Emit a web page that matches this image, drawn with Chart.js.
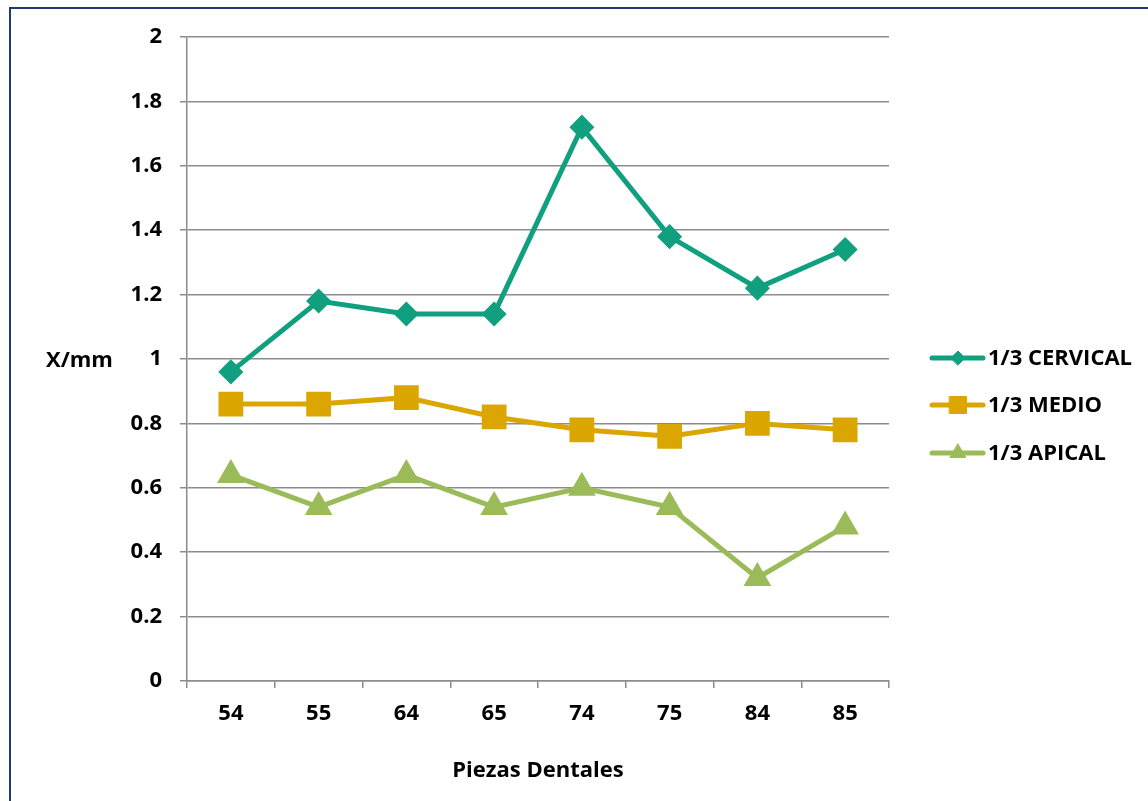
<!DOCTYPE html>
<html>
<head>
<meta charset="utf-8">
<script src="https://cdn.jsdelivr.net/npm/chart.js@4.4.1/dist/chart.umd.min.js"></script>
<style>
  html, body { margin: 0; padding: 0; background: #fff; }
  #wrap { position: relative; width: 1148px; height: 801px; }
</style>
</head>
<body>
<div id="wrap"><canvas id="chart" width="1148" height="801"></canvas></div>
<script>
// Data
const categories = ["54", "55", "64", "65", "74", "75", "84", "85"];
const cervical = [0.96, 1.18, 1.14, 1.14, 1.72, 1.38, 1.22, 1.34];
const medio = [0.86, 0.86, 0.88, 0.82, 0.78, 0.76, 0.80, 0.78];
const apical = [0.64, 0.54, 0.64, 0.54, 0.60, 0.54, 0.32, 0.48];
const seriesNames = ["1/3 CERVICAL", "1/3 MEDIO", "1/3 APICAL"];

const FONT = "'Open Sans', sans-serif";
const FSIZE = 22;
const gridColor = "#8c8c8c";

const colors = ["#10A07F", "#DCA600", "#9BBB59"];
const styles = ["rectRot", "rect", "triangle"];
const radii = [9, 14, 11];
const legendRadii = [7, 12, 9];

// Legend + frame + y-title drawn by hand
const extras = {
  id: "extras",
  beforeDraw(chart) {
    const c = chart.ctx;
    c.save();
    c.strokeStyle = "#1F3A70";
    c.lineWidth = 2;
    c.beginPath();
    c.moveTo(10, 801);
    c.lineTo(10, 8);
    c.lineTo(1148, 8);
    c.stroke();
    c.restore();
  },
  afterDraw(chart) {
    const c = chart.ctx;
    c.save();
    c.fillStyle = "#000";
    c.font = "bold " + FSIZE + "px " + FONT;
    c.textBaseline = "middle";
    c.textAlign = "left";
    c.fillText("X/mm", 46, 361);

    const rows = [358, 405, 453];
    chart.data.datasets.forEach((ds, i) => {
      const y = rows[i];
      c.strokeStyle = ds.borderColor;
      c.fillStyle = ds.borderColor;
      c.lineWidth = 5;
      c.lineCap = "round";
      c.beginPath();
      c.moveTo(932, y);
      c.lineTo(983, y);
      c.stroke();
      c.lineWidth = 1;
      Chart.helpers.drawPoint(c, {
        pointStyle: ds.pointStyle,
        radius: legendRadii[i],
        rotation: 0,
        borderWidth: 1
      }, 958, y);
      c.fillStyle = "#000";
      c.fillText(ds.label, 988, y + 1);
    });
    c.restore();
  }
};

const datasets = [cervical, medio, apical].map((vals, i) => ({
  label: seriesNames[i],
  data: vals,
  borderColor: colors[i],
  backgroundColor: colors[i],
  pointBackgroundColor: colors[i],
  pointBorderColor: colors[i],
  borderWidth: 5,
  pointStyle: styles[i],
  pointRadius: radii[i],
  pointHoverRadius: radii[i],
  tension: 0
}));

new Chart(document.getElementById("chart").getContext("2d"), {
  type: "line",
  data: { labels: categories, datasets },
  options: {
    responsive: false,
    animation: false,
    layout: { padding: { left: 0, top: 37, right: 259, bottom: 0 } },
    plugins: { legend: { display: false }, tooltip: { enabled: false } },
    scales: {
      x: {
        offset: true,
        grid: { display: true, offset: true, drawOnChartArea: false, color: gridColor, lineWidth: 1.5, tickLength: 7 },
        border: { color: gridColor, width: 1.5 },
        ticks: { color: "#000", font: { family: FONT, size: FSIZE, weight: "bold" }, padding: 13 },
        title: { display: true, text: "Piezas Dentales", color: "#000", font: { family: FONT, size: FSIZE, weight: "bold" }, padding: { top: 4, bottom: 17 } },
        afterFit(s) { s.height = 120; }
      },
      y: {
        min: 0,
        max: 2,
        ticks: {
          stepSize: 0.2,
          color: "#000",
          padding: 18,
          font: { family: FONT, size: FSIZE, weight: "bold" },
          callback: v => Math.round(v * 10) / 10
        },
        grid: { color: gridColor, lineWidth: 1.5, tickLength: 7 },
        border: { color: gridColor, width: 1.5 },
        afterFit(s) { s.width = 187; }
      }
    }
  },
  plugins: [extras]
});
</script>
</body>
</html>
